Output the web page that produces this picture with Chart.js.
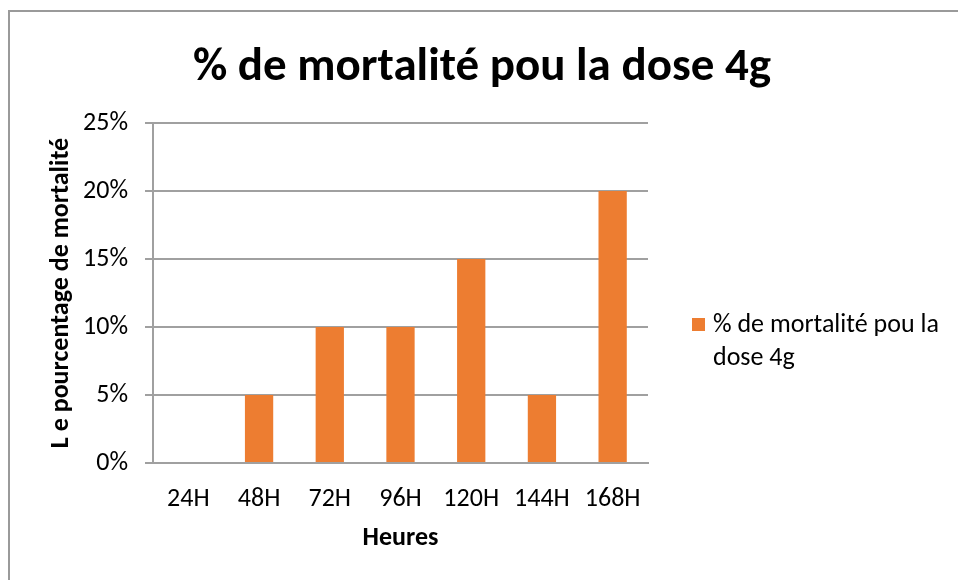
<!DOCTYPE html>
<html>
<head>
<meta charset="utf-8">
<script src="https://cdn.jsdelivr.net/npm/chart.js@4"></script>
<style>
  html, body { margin: 0; padding: 0; background: #ffffff; }
  #wrap { position: relative; width: 958px; height: 580px; }
</style>
</head>
<body>
<div id="wrap"><canvas id="c" width="958" height="580"></canvas></div>
<script>
const categories = ['24H', '48H', '72H', '96H', '120H', '144H', '168H'];
const mortality = [0, 5, 10, 10, 15, 5, 20];
const seriesLabel = '% de mortalité pou la dose 4g';
const chartTitle = '% de mortalité pou la dose 4g';
const xTitle = 'Heures';
const yTitle = 'L e pourcentage de mortalité';
const yMax = 25;
const yStep = 5;

const FONT = 'Carlito, Lato, sans-serif';

const framePlugin = {
  id: 'frame',
  beforeDraw(chart) {
    const ctx = chart.ctx;
    ctx.save();
    ctx.fillStyle = '#ffffff';
    ctx.fillRect(0, 0, chart.width, chart.height);
    ctx.strokeStyle = '#9a9a9a';
    ctx.lineWidth = 2;
    ctx.beginPath();
    ctx.moveTo(9, chart.height);
    ctx.lineTo(9, 11);
    ctx.lineTo(chart.width, 11);
    ctx.stroke();
    ctx.restore();
  }
};

const titlePlugin = {
  id: 'mainTitle',
  afterDraw(chart) {
    const ctx = chart.ctx;
    ctx.save();
    ctx.font = 'bold 47px ' + FONT;
    ctx.fillStyle = '#000000';
    ctx.textAlign = 'center';
    ctx.textBaseline = 'middle';
    ctx.fillText(chartTitle, 482, 68);
    ctx.restore();
  }
};

const sideLegend = {
  id: 'sideLegend',
  afterDraw(chart) {
    const ctx = chart.ctx;
    const ds = chart.data.datasets[0];
    ctx.save();
    ctx.fillStyle = ds.backgroundColor;
    ctx.fillRect(692, 318, 13, 13);
    ctx.font = '26px ' + FONT;
    ctx.fillStyle = '#000000';
    ctx.textBaseline = 'middle';
    ctx.textAlign = 'left';
    const maxW = 240;
    const words = ds.label.split(' ');
    const lines = [];
    let cur = '';
    for (const w of words) {
      const t = cur ? cur + ' ' + w : w;
      if (ctx.measureText(t).width > maxW && cur) { lines.push(cur); cur = w; }
      else cur = t;
    }
    if (cur) lines.push(cur);
    lines.forEach((ln, i) => ctx.fillText(ln, 713, 325 + i * 33));
    ctx.restore();
  }
};

new Chart(document.getElementById('c'), {
  type: 'bar',
  data: {
    labels: categories,
    datasets: [{
      label: seriesLabel,
      data: mortality,
      backgroundColor: '#ED7D31',
      borderWidth: 0,
      categoryPercentage: 1.0,
      barPercentage: 0.4
    }]
  },
  options: {
    responsive: false,
    animation: false,
    layout: { padding: { top: 123, left: 0, right: 310, bottom: 0 } },
    plugins: {
      legend: { display: false },
      tooltip: { enabled: false },
      title: { display: false }
    },
    scales: {
      x: {
        grid: { display: false, drawTicks: false },
        border: { display: true, color: '#a0a0a0', width: 2 },
        ticks: { color: '#000000', font: { family: FONT, size: 26 }, padding: 21, maxRotation: 0 },
        title: {
          display: true, text: xTitle, color: '#000000',
          font: { family: FONT, size: 26, weight: 'bold', lineHeight: 1.2 },
          padding: { top: 0, bottom: 26 }
        },
        afterFit(s) { s.height = 117; }
      },
      y: {
        min: 0, max: yMax,
        grid: { color: '#a0a0a0', lineWidth: 2, tickLength: 8, drawTicks: true },
        border: { display: true, color: '#a0a0a0', width: 2 },
        ticks: {
          stepSize: yStep, color: '#000000', padding: 17,
          font: { family: FONT, size: 26 },
          callback: v => v + '%'
        },
        title: {
          display: true, text: yTitle, color: '#000000',
          font: { family: FONT, size: 26, weight: 'bold', lineHeight: 1.2 },
          padding: { top: 46, bottom: 0 }
        },
        afterFit(s) { s.width = 153; }
      }
    }
  },
  plugins: [framePlugin, titlePlugin, sideLegend]
});
</script>
</body>
</html>
